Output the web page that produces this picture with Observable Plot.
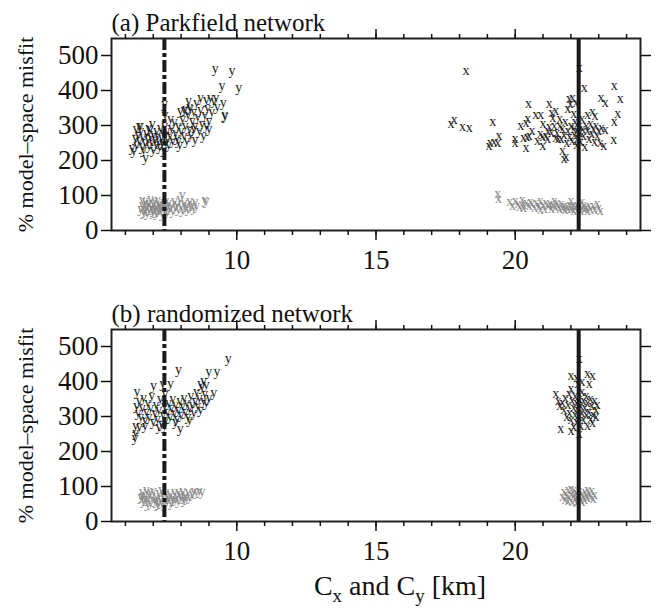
<!DOCTYPE html>
<html>
<head>
<meta charset="utf-8">
<script src="https://cdn.jsdelivr.net/npm/d3@7"></script>
<script src="https://cdn.jsdelivr.net/npm/@observablehq/plot@0.6"></script>
<style>
  html, body { margin: 0; padding: 0; background: #fff; }
  #wrap { position: relative; width: 657px; height: 610px; }
  svg, svg text { font-family: "Liberation Serif", "Times New Roman", serif !important; }
  #xlabel { position: absolute; left: 0; width: 800px; top: 572px; text-align: center;
            font-family: "Liberation Serif", "Times New Roman", serif; font-size: 28px; color: #111; line-height: 1; }
  #xlabel sub { font-size: 19px; }
</style>
</head>
<body>
<div id="wrap"><div id="charts"></div><div id="xlabel">C<sub>x</sub> and C<sub>y</sub> [km]</div></div>
<script>
// ---------- data ----------
const panelTitles = ["(a) Parkfield network", "(b) randomized network"];
const yAxisLabel = "% model–space misfit";
const yTicks = [0, 100, 200, 300, 400, 500];
const majorTicks = [10, 15, 20];
const minorTicks = [6,7,8,9,10,11,12,13,14,15,16,17,18,19,20,21,22,23,24];
const trueCy = 7.4;   // dash-dot line
const trueCx = 22.28; // solid line

// Panel (a): [C, misfit]
const aBlackY = [[6.35,265],[6.4,245],[6.45,275],[6.5,258],[6.55,285],[6.6,240],[6.62,268],[6.7,252],[6.72,209],[6.75,280],[6.8,262],[6.85,244],[6.88,290],[6.9,270],[6.95,255],[7.0,232],[7.0,278],[7.05,262],[7.1,248],[7.12,286],[7.15,270],[7.2,255],[7.22,240],[7.25,295],[7.3,265],[7.32,250],[7.35,280],[7.38,230],[7.4,270],[7.4,300],[7.42,330],[7.4,362],[7.45,255],[7.48,285],[7.5,262],[7.55,245],[6.3,228],[6.38,290],[6.5,300],[6.65,230],[6.24,238],[6.54,300],[6.83,295],[6.96,305],[7.6,275],[7.65,295],[7.7,258],[7.75,310],[7.8,280],[7.85,265],[7.9,300],[7.95,245],[8.0,285],[8.05,320],[8.1,270],[8.1,345],[8.15,300],[8.2,258],[8.25,330],[8.3,290],[8.3,355],[8.35,275],[8.4,315],[8.45,340],[8.5,260],[8.5,300],[8.55,365],[8.6,325],[8.65,285],[8.7,345],[8.7,380],[8.75,305],[8.8,270],[8.85,330],[8.9,375],[8.95,350],[9.0,315],[9.0,290],[9.05,380],[9.1,340],[9.17,372],[9.25,380],[9.3,355],[9.51,367],[9.56,331],[9.58,328],[9.23,463],[9.83,457],[9.47,414],[10.07,409],[8.27,371],[7.97,343],[8.15,348],[8.33,350],[8.45,292],[8.9,300],[7.62,319],[7.9,257]];
const aGrayY = [[6.55,62],[6.6,75],[6.65,55],[6.7,85],[6.72,68],[6.78,50],[6.8,78],[6.85,62],[6.9,90],[6.92,70],[6.98,55],[7.0,80],[7.05,65],[7.1,72],[7.12,52],[7.15,88],[7.2,60],[7.25,75],[7.3,68],[7.32,48],[7.38,82],[7.4,62],[7.45,72],[7.5,55],[7.55,80],[7.6,65],[7.65,75],[7.7,58],[7.75,85],[7.8,68],[7.85,78],[7.9,62],[7.95,90],[8.0,72],[8.05,60],[8.1,80],[8.15,68],[8.2,75],[8.25,62],[8.3,85],[8.35,70],[8.4,78],[8.45,65],[8.5,82],[8.55,72],[8.85,88],[8.9,87],[8.04,102],[6.6,88],[6.7,58],[6.75,72],[6.85,80],[6.95,65],[7.0,60],[7.05,85],[7.1,58],[7.2,78],[7.25,65],[7.35,75],[7.45,85],[7.5,68]];
const aBlackX = [[17.69,305],[17.81,316],[18.11,296],[18.35,293],[18.23,457],[19.19,310],[19.06,243],[19.24,255],[19.37,252],[19.42,271],[19.1,250],[19.99,262],[19.99,252],[20.30,265],[20.42,269],[20.50,271],[20.39,236],[20.48,362],[20.39,309],[20.45,319],[20.74,331],[20.92,331],[20.90,276],[20.99,269],[21.17,286],[21.22,296],[20.99,243],[21.22,364],[21.31,338],[21.46,343],[21.35,324],[21.46,265],[21.17,262],[21.89,348],[21.94,377],[21.98,364],[22.06,381],[22.18,367],[21.70,229],[21.82,211],[21.76,205],[22.48,409],[22.3,467],[23.56,414],[23.08,381],[23.23,367],[23.77,377],[22.78,341],[22.87,329],[23.68,333],[23.56,312],[23.23,288],[23.54,259],[23.18,243],[21.5,280],[21.6,300],[21.65,262],[21.7,290],[21.75,275],[21.8,310],[21.85,250],[21.9,285],[21.95,268],[22.0,300],[22.05,258],[22.1,290],[22.12,275],[22.15,310],[22.2,245],[22.22,285],[22.25,265],[22.3,300],[22.32,280],[22.35,255],[22.4,320],[22.42,290],[22.45,270],[22.5,240],[22.55,300],[22.6,285],[22.65,262],[22.7,305],[22.75,278],[22.8,290],[22.85,255],[22.9,300],[22.95,270],[23.0,285],[23.05,250],[23.1,295],[22.6,330],[22.1,335],[21.4,300],[21.3,280],[21.6,320],[20.2,300],[20.6,285],[21.0,305],[20.8,258],[21.1,270],[21.55,262]];
const aGrayX = [[19.37,105],[19.40,91],[19.8,82],[19.9,72],[20.0,86],[20.1,78],[20.15,68],[20.25,88],[20.3,75],[20.4,80],[20.5,70],[20.55,84],[20.6,76],[20.7,66],[20.75,80],[20.85,72],[20.9,85],[21.0,74],[21.05,64],[21.1,80],[21.2,70],[21.25,78],[21.3,62],[21.35,74],[21.45,68],[21.5,80],[21.55,72],[21.6,62],[21.65,76],[21.7,66],[21.75,72],[21.8,60],[21.85,70],[21.9,64],[21.95,75],[22.0,62],[22.05,70],[22.1,58],[22.15,68],[22.2,74],[22.25,62],[22.3,70],[22.35,58],[22.4,66],[22.45,74],[22.5,62],[22.55,68],[22.6,56],[22.65,72],[22.7,64],[22.8,70],[22.85,60],[22.95,78],[23.0,66],[23.05,58],[22.0,85],[22.4,82],[21.4,85],[20.9,60],[20.3,65]];

// Panel (b): [C, misfit]
const bBlackY = [[9.69,465],[7.91,433],[8.99,429],[9.29,429],[8.7,395],[8.8,403],[8.9,392],[8.75,385],[9.17,369],[6.42,372],[7.01,389],[7.34,393],[7.62,393],[6.36,255],[6.36,274],[6.34,241],[7.97,265],[6.4,330],[6.45,310],[6.5,345],[6.55,300],[6.6,325],[6.65,355],[6.7,290],[6.75,315],[6.8,340],[6.85,300],[6.9,325],[6.95,360],[7.0,285],[7.05,310],[7.1,335],[7.15,295],[7.2,320],[7.25,350],[7.3,280],[7.35,305],[7.4,330],[7.42,365],[7.45,290],[7.5,315],[7.55,340],[7.6,300],[7.65,325],[7.7,350],[7.75,310],[7.8,335],[7.85,295],[7.9,320],[7.95,345],[8.0,305],[8.05,330],[8.1,355],[8.15,315],[8.2,340],[8.25,300],[8.3,325],[8.35,360],[8.4,335],[8.45,310],[8.5,345],[8.55,370],[8.6,330],[8.65,355],[8.7,320],[8.8,345],[8.85,365],[8.9,340],[9.0,355],[6.5,270],[6.7,275],[7.2,270],[7.4,275],[7.8,285],[8.3,290]];
const bGrayY = [[6.55,70],[6.6,85],[6.65,60],[6.7,78],[6.75,90],[6.8,65],[6.85,80],[6.9,55],[6.95,72],[7.0,88],[7.05,62],[7.1,75],[7.15,50],[7.2,82],[7.25,68],[7.3,58],[7.35,78],[7.4,65],[7.45,85],[7.5,60],[7.55,72],[7.6,80],[7.65,55],[7.7,70],[7.75,85],[7.8,65],[7.85,75],[7.9,60],[7.95,80],[8.0,70],[8.05,88],[8.1,62],[8.15,78],[8.2,68],[8.25,85],[8.3,72],[8.4,80],[8.45,88],[8.55,85],[8.65,88],[8.75,85],[6.7,65],[6.9,85],[7.1,60],[7.3,90],[7.5,75],[7.7,62],[7.9,85],[8.1,72],[7.2,55],[7.4,50],[6.6,75],[6.8,52]];
const bBlackX = [[22.0,417],[22.6,424],[22.78,417],[21.46,367],[21.94,365],[22.66,393],[21.64,265],[22.78,284],[22.3,465],[21.7,340],[21.75,320],[21.8,355],[21.85,300],[21.9,335],[21.95,310],[22.0,380],[22.0,290],[22.05,345],[22.1,325],[22.1,270],[22.15,360],[22.15,305],[22.2,340],[22.2,285],[22.25,395],[22.25,320],[22.3,350],[22.3,300],[22.35,330],[22.35,275],[22.4,370],[22.4,310],[22.45,345],[22.45,290],[22.5,325],[22.55,360],[22.55,305],[22.6,340],[22.65,315],[22.7,350],[22.7,295],[22.75,330],[22.8,305],[22.85,345],[22.9,320],[22.95,335],[22.2,410],[22.4,400],[21.6,330],[21.55,345],[22.0,260],[22.3,250],[22.6,275],[22.9,300]];
const bGrayX = [[21.7,72],[21.75,85],[21.8,62],[21.85,78],[21.9,90],[21.95,68],[22.0,80],[22.05,58],[22.1,74],[22.1,92],[22.15,65],[22.2,82],[22.2,70],[22.25,60],[22.3,88],[22.3,75],[22.35,66],[22.4,80],[22.45,70],[22.5,85],[22.5,62],[22.55,76],[22.6,68],[22.65,82],[22.7,72],[22.75,88],[22.8,65],[22.85,78],[21.9,60],[22.0,95],[22.4,58],[22.6,90],[22.2,55]];

// ---------- drawing ----------
const FONT = "Liberation Serif";
const INK = "#1a1a1a";
const GRAY = "#8a8a8a";

function glyphs(data, ch, fill) {
  return Plot.text(data, {x: d => d[0], y: d => d[1], text: () => ch, fill, fontSize: 14, fontFamily: FONT});
}

function panel(title, blackY, grayY, blackX, grayX) {
  return Plot.plot({
    width: 657, height: 291,
    marginTop: 38, marginBottom: 61, marginLeft: 111, marginRight: 17,
    style: {fontFamily: FONT, fontSize: "27px", background: "#fff", color: "#111", overflow: "visible"},
    x: {domain: [5.5, 24.5]},
    y: {domain: [0, 548.6]},
    marks: [
      glyphs(grayY, "y", GRAY),
      glyphs(grayX, "x", GRAY),
      glyphs(blackY, "y", INK),
      glyphs(blackX, "x", INK),
      Plot.ruleX([trueCy], {stroke: INK, strokeWidth: 4, strokeDasharray: "12,3,4,3"}),
      Plot.ruleX([trueCx], {stroke: INK, strokeWidth: 4}),
      Plot.frame({stroke: "#222", strokeWidth: 2}),
      Plot.axisY(yTicks, {anchor: "left", tickSize: 10, tickPadding: 3, fontSize: 27, fontFamily: FONT, label: null, strokeWidth: 1.5}),
      Plot.axisY(yTicks, {anchor: "right", tickSize: 10, tickFormat: () => "", label: null, strokeWidth: 1.5}),
      Plot.axisX(minorTicks, {anchor: "bottom", tickSize: 5, tickFormat: () => "", label: null, strokeWidth: 1.5}),
      Plot.axisX(majorTicks, {anchor: "bottom", tickSize: 10, tickPadding: 9, fontSize: 27, fontFamily: FONT, label: null, strokeWidth: 1.5}),
      Plot.axisX(minorTicks, {anchor: "top", tickSize: 5, tickFormat: () => "", label: null, strokeWidth: 1.5}),
      Plot.axisX(majorTicks, {anchor: "top", tickSize: 10, tickFormat: () => "", label: null, strokeWidth: 1.5}),
      Plot.text([title], {frameAnchor: "top-left", dy: -8, lineAnchor: "bottom", textAnchor: "start", fontSize: 25, fill: "#111", fontFamily: FONT}),
      Plot.text([yAxisLabel], {frameAnchor: "left", dx: -86, rotate: -90, textAnchor: "middle", lineAnchor: "middle", fontSize: 22, fill: "#111", fontFamily: FONT})
    ]
  });
}

const host = document.getElementById("charts");
const p1 = panel(panelTitles[0], aBlackY, aGrayY, aBlackX, aGrayX);
const p2 = panel(panelTitles[1], bBlackY, bGrayY, bBlackX, bGrayX);
p1.style.display = "block"; p2.style.display = "block";
host.appendChild(p1);
host.appendChild(p2);
</script>
</body>
</html>
